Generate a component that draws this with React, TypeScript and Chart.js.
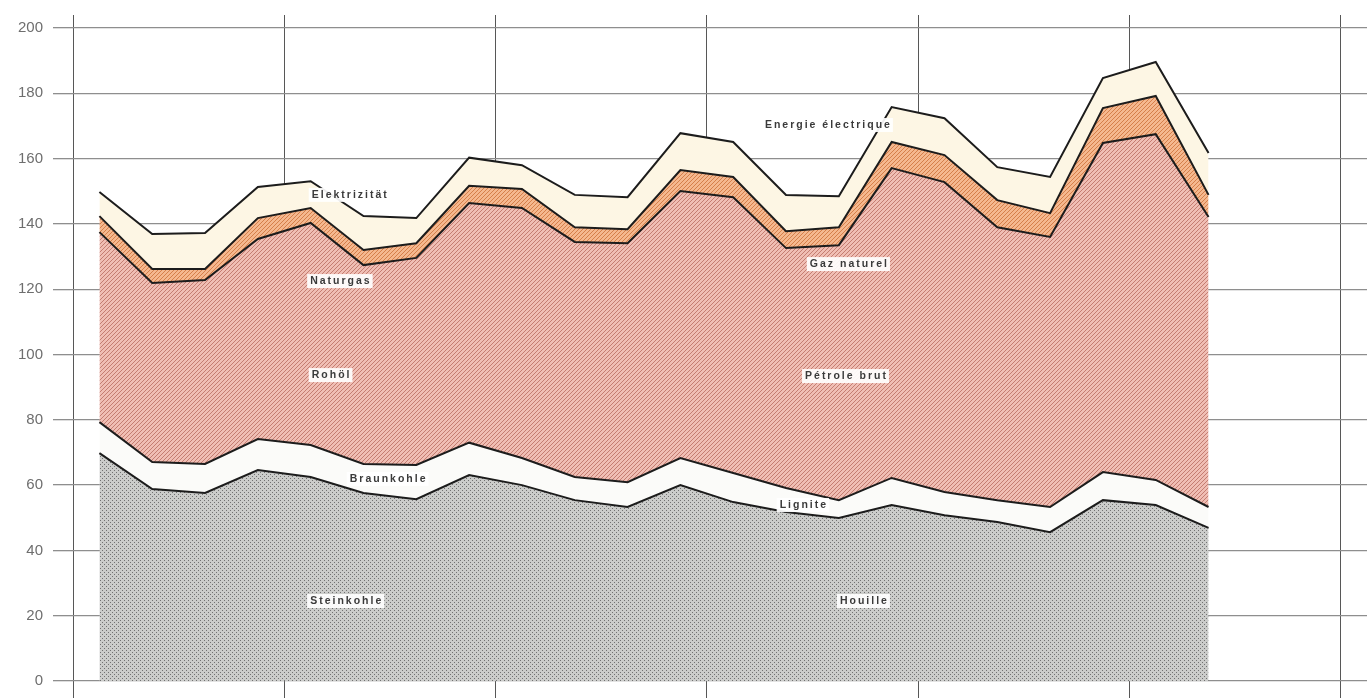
import React, { useEffect, useRef } from "react";
import { Chart, registerables } from "chart.js";

Chart.register(...registerables);

// Quarter centres (x in quarters from the first year boundary)
const quarterPositions = [0.5, 1.5, 2.5, 3.5, 4.5, 5.5, 6.5, 7.5, 8.5, 9.5, 10.5, 11.5, 12.5, 13.5, 14.5, 15.5, 16.5, 17.5, 18.5, 19.5, 20.5, 21.5];
const yearBoundaries = [0, 4, 8, 12, 16, 20, 24];
const yTicks = [0, 20, 40, 60, 80, 100, 120, 140, 160, 180, 200];

// Layer values (stacked, bottom to top)
const steinkohle = [69.8, 58.8, 57.6, 64.6, 62.5, 57.6, 55.7, 63.1, 60.0, 55.4, 53.3, 60.0, 54.8, 51.8, 49.9, 53.9, 50.8, 48.7, 45.6, 55.4, 53.9, 46.9];
const braunkohle = [9.5, 8.3, 8.9, 9.5, 9.8, 8.9, 10.5, 9.9, 8.3, 7.1, 7.6, 8.3, 8.9, 7.3, 5.5, 8.3, 7.1, 6.7, 7.7, 8.6, 7.7, 6.4];
const rohoel = [58.2, 54.8, 56.3, 61.3, 68.0, 60.9, 63.4, 73.4, 76.6, 72.0, 73.2, 81.8, 84.5, 73.5, 78.1, 94.9, 94.9, 83.6, 82.7, 100.8, 105.9, 88.8];
const naturgas = [4.9, 4.3, 3.4, 6.4, 4.6, 4.6, 4.5, 5.3, 5.8, 4.5, 4.3, 6.4, 6.2, 5.2, 5.5, 8.0, 8.3, 8.3, 7.3, 10.7, 11.7, 6.8];
const elektrizitaet = [7.4, 10.7, 11.0, 9.5, 8.2, 10.4, 7.7, 8.6, 7.3, 9.9, 9.8, 11.3, 10.7, 11.1, 9.5, 10.7, 11.3, 10.1, 11.1, 9.2, 10.4, 12.8];

// In-chart labels (text, anchored in data coordinates)
const labelTexts = ["Elektrizität", "Naturgas", "Rohöl", "Braunkohle", "Steinkohle", "Energie électrique", "Gaz naturel", "Pétrole brut", "Lignite", "Houille"];
const labelX = [4.52, 4.49, 4.52, 5.24, 4.49, 13.1, 13.95, 13.86, 13.38, 14.52];
const labelY = [148.9, 122.5, 93.7, 61.9, 24.5, 170.3, 127.7, 93.4, 53.9, 24.5];

function makePattern(bg: string, fg: string, size: number, pts: number[][]) {
  const c = document.createElement("canvas");
  c.width = size;
  c.height = size;
  const g = c.getContext("2d")!;
  g.fillStyle = bg;
  g.fillRect(0, 0, size, size);
  g.fillStyle = fg;
  pts.forEach(([px, py]) => g.fillRect(px, py, 1, 1));
  return g.createPattern(c, "repeat");
}

const labelPlugin = {
  id: "areaLabels",
  afterDatasetsDraw(chart: any) {
    const { ctx, scales } = chart;
    const xs = scales.x;
    const ys = scales.y;
    ctx.save();
    ctx.font = 'bold 10.5px "Liberation Sans"';
    (ctx as any).letterSpacing = "2px";
    ctx.textBaseline = "middle";
    ctx.textAlign = "left";
    labelTexts.forEach((t, i) => {
      const px = xs.getPixelForValue(labelX[i]);
      const py = ys.getPixelForValue(labelY[i]);
      const w = ctx.measureText(t).width;
      ctx.fillStyle = "rgba(255,255,255,0.92)";
      ctx.fillRect(px - 3, py - 7, w + 4, 14);
      ctx.fillStyle = "#3a3a3a";
      ctx.fillText(t, px, py + 0.5);
    });
    ctx.restore();
  },
};

export default function App() {
  const ref = useRef<HTMLCanvasElement | null>(null);

  useEffect(() => {
    if (!ref.current) return;
    const hatch = [[0, 3], [1, 2], [2, 1], [3, 0]];
    const coalPat = makePattern("#cbccca", "#717171", 4, [[0, 0], [2, 2]]);
    const oilPat = makePattern("#f0beb4", "#c47d71", 4, hatch);
    const gasPat = makePattern("#f5b88f", "#d57f4a", 4, hatch);

    const pts = (arr: number[]) => arr.map((v, i) => ({ x: quarterPositions[i], y: v }));
    const lineCommon = {
      borderColor: "#1c1c1c",
      borderWidth: 2,
      pointRadius: 0,
      tension: 0,
    };

    const chart = new Chart(ref.current, {
      type: "line",
      data: {
        datasets: [
          { label: "Steinkohle", data: pts(steinkohle), backgroundColor: coalPat as any, fill: "origin", ...lineCommon },
          { label: "Braunkohle", data: pts(braunkohle), backgroundColor: "#fbfbf9", fill: "-1", ...lineCommon },
          { label: "Rohöl", data: pts(rohoel), backgroundColor: oilPat as any, fill: "-1", ...lineCommon },
          { label: "Naturgas", data: pts(naturgas), backgroundColor: gasPat as any, fill: "-1", ...lineCommon },
          { label: "Elektrizität", data: pts(elektrizitaet), backgroundColor: "#fdf6e4", fill: "-1", ...lineCommon },
        ],
      },
      options: {
        responsive: false,
        animation: false,
        layout: { padding: { top: 15, left: 0, right: 0, bottom: 0 } },
        plugins: { legend: { display: false }, tooltip: { enabled: false } },
        scales: {
          x: {
            type: "linear",
            min: 0,
            max: 24.5,
            z: 1,
            afterBuildTicks: (s: any) => {
              s.ticks = yearBoundaries.map((v) => ({ value: v }));
            },
            afterFit: (s: any) => {
              s.height = 17;
              s.paddingLeft = 0;
              s.paddingRight = 0;
            },
            ticks: { display: false },
            grid: { color: "rgba(45,45,45,0.8)", lineWidth: 1, drawTicks: true, tickLength: 17, tickColor: "rgba(45,45,45,0.8)" },
            border: { display: false },
          },
          y: {
            stacked: true,
            min: 0,
            max: 204,
            afterBuildTicks: (s: any) => {
              s.ticks = yTicks.map((v) => ({ value: v }));
            },
            afterFit: (s: any) => {
              s.width = 73;
              s.paddingTop = 0;
              s.paddingBottom = 0;
            },
            ticks: { color: "#6e6e6e", font: { size: 15, family: "Liberation Sans" }, padding: 10 },
            grid: { color: "#8e8e8e", lineWidth: 1.3, tickLength: 20, tickColor: "#8e8e8e" },
            border: { display: false },
          },
        },
      },
      plugins: [labelPlugin],
    });
    return () => chart.destroy();
  }, []);

  return (
    <div style={{ position: "fixed", left: 0, top: 0, width: 1367, height: 698, background: "#fff" }}>
      <canvas ref={ref} width={1367} height={698} style={{ display: "block" }} />
    </div>
  );
}
